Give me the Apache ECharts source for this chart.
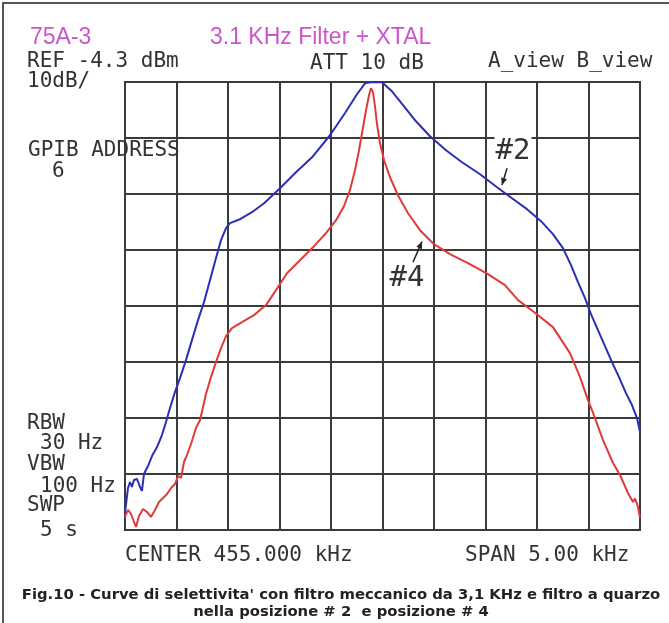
<!DOCTYPE html>
<html>
<head>
<meta charset="utf-8">
<script src="https://cdn.jsdelivr.net/npm/echarts@6/dist/echarts.min.js"></script>
<style>
html,body{margin:0;padding:0;background:#fff;}
#chart{width:669px;height:623px;}
</style>
</head>
<body>
<div id="chart"></div>
<script>
// Frequency offset from 455.000 kHz (kHz) and level relative to REF (dB)
const blueFreq = [-2.500,-2.485,-2.471,-2.451,-2.432,-2.413,-2.383,-2.354,-2.335,-2.316,-2.277,-2.238,-2.189,-2.141,-2.102,-2.063,-2.015,-1.966,-1.908,-1.850,-1.791,-1.733,-1.675,-1.617,-1.568,-1.519,-1.481,-1.383,-1.267,-1.150,-0.995,-0.840,-0.684,-0.510,-0.365,-0.248,-0.170,-0.102,-0.005,0.092,0.209,0.325,0.461,0.617,0.772,0.947,1.112,1.257,1.403,1.539,1.655,1.752,1.830,1.898,1.966,2.024,2.092,2.160,2.228,2.296,2.364,2.422,2.471,2.500];
const blueDb   = [-76.97,-74.64,-72.50,-71.43,-72.32,-71.07,-70.89,-72.32,-73.03,-70.00,-68.58,-66.79,-65.18,-63.04,-60.72,-58.23,-55.37,-52.87,-49.66,-46.09,-42.52,-39.31,-35.39,-31.46,-28.24,-26.10,-25.21,-24.50,-23.25,-21.65,-18.97,-16.11,-13.44,-9.51,-5.59,-2.19,-0.23,0,-0.05,-1.66,-4.34,-7.01,-9.69,-12.19,-14.33,-16.47,-18.79,-20.75,-22.71,-24.85,-27.17,-29.67,-32.71,-35.74,-38.60,-41.45,-44.31,-47.16,-50.02,-52.69,-55.55,-57.69,-60.01,-62.51];

const redFreq = [-2.500,-2.471,-2.442,-2.413,-2.393,-2.364,-2.325,-2.286,-2.248,-2.209,-2.170,-2.131,-2.092,-2.053,-2.015,-1.985,-1.956,-1.927,-1.898,-1.859,-1.811,-1.772,-1.714,-1.665,-1.617,-1.568,-1.519,-1.461,-1.364,-1.248,-1.131,-1.034,-0.927,-0.801,-0.665,-0.549,-0.451,-0.374,-0.316,-0.267,-0.228,-0.189,-0.160,-0.131,-0.112,-0.092,-0.073,-0.053,-0.024,0.015,0.073,0.150,0.248,0.364,0.500,0.655,0.830,1.024,1.189,1.316,1.480,1.655,1.820,1.918,1.995,2.034,2.141,2.238,2.306,2.383,2.432,2.452,2.481,2.500];
const redDb   = [-77.67,-76.42,-77.14,-78.57,-79.46,-77.50,-76.25,-76.78,-77.67,-76.42,-75.00,-74.29,-73.57,-72.50,-71.79,-70.36,-70.72,-67.86,-66.61,-64.64,-61.79,-60.40,-55.72,-52.69,-50.02,-47.52,-45.38,-43.95,-42.88,-41.63,-39.84,-37.17,-34.14,-31.82,-29.32,-27.00,-24.68,-22.18,-19.32,-15.76,-12.19,-8.08,-5.05,-2.37,-1.12,-1.84,-4.34,-7.55,-10.94,-13.97,-17.01,-20.22,-23.43,-26.46,-28.96,-30.75,-32.35,-34.32,-36.28,-38.95,-41.20,-43.77,-48.41,-52.69,-56.80,-58.58,-63.94,-68.04,-70.18,-73.39,-75.00,-74.40,-75.90,-77.85];

const xTicks = {min: -2.5, max: 2.5, step: 0.5};
const yTicks = {min: -80, max: 0, step: 10};

const headerTexts = ["REF -4.3 dBm", "10dB/", "ATT 10 dB", "A_view B_view", "GPIB ADDRESS", "6"];
const sideTexts = ["RBW", "30 Hz", "VBW", "100 Hz", "SWP", "5 s"];
const footerTexts = ["CENTER 455.000 kHz", "SPAN 5.00 kHz"];
const titleTexts = ["75A-3", "3.1 KHz Filter + XTAL"];
const captionLines = ["Fig.10 - Curve di selettivita' con filtro meccanico da 3,1 KHz e filtro a quarzo", "nella posizione # 2  e posizione # 4"];
const curveLabels = ["#2", "#4"];
// annotation anchors in data coords: [label centre], [arrow start], [arrow tip]
const label2 = [[1.267,-12.37],[1.209,-15.4],[1.160,-18.4]];
const label4 = [[0.238,-35.03],[0.296,-32.2],[0.383,-28.5]];

const chart = echarts.init(document.getElementById('chart'), null, {renderer:'canvas'});
const mono = '"DejaVu Sans Mono", "Liberation Mono", monospace';
const gridColor = '#3a3a3a';

function pairs(xs, ys){ return xs.map((x,i)=>[x, ys[i]]); }

const option = {
  backgroundColor: '#ffffff',
  animation: false,
  grid: {left:125, right:29, top:82, bottom:93, show:true, borderColor:gridColor, borderWidth:2, backgroundColor:'transparent'},
  xAxis: {type:'value', min:xTicks.min, max:xTicks.max, interval:xTicks.step,
    axisLine:{show:false}, axisTick:{show:false}, axisLabel:{show:false},
    splitLine:{show:true, lineStyle:{color:gridColor, width:2}}},
  yAxis: {type:'value', min:yTicks.min, max:yTicks.max, interval:yTicks.step,
    axisLine:{show:false}, axisTick:{show:false}, axisLabel:{show:false},
    splitLine:{show:true, lineStyle:{color:gridColor, width:2}}},
  series: [
    {type:'line', name:'#2', data:pairs(blueFreq, blueDb), symbol:'none', smooth:false,
     lineStyle:{color:'#2b2fb5', width:2}, z:3},
    {type:'line', name:'#4', data:pairs(redFreq, redDb), symbol:'none', smooth:false,
     lineStyle:{color:'#e03a3a', width:2}, z:3}
  ]
};
chart.setOption(option);

function txt(s, x, y, font, size, color, extra){
  return Object.assign({type:'text', x:x, y:y, z:10,
    style:Object.assign({text:s, fontFamily:font, fontSize:size, fill:color, textVerticalAlign:'middle', textAlign:'left'}, extra||{})});
}
const g = [];
g.push({type:'rect', shape:{x:3,y:3,width:720,height:720}, style:{fill:'none', stroke:'#555', lineWidth:2}, z:1});
const magenta = '#cc55cc';
const sans = '"Liberation Sans", Arial, sans-serif';
g.push(txt(titleTexts[0], 30, 38, sans, 23, magenta));
g.push(txt(titleTexts[1], 210, 38, sans, 23, magenta));
const hdrPos = [[27,62],[27,82],[310,64],[488,62],[28,151],[52,172]];
headerTexts.forEach((s,i)=>g.push(txt(s, hdrPos[i][0], hdrPos[i][1], mono, 21, '#333')));
const sidePos = [[27,424],[40,444],[27,465],[40,487],[27,506],[40,531]];
sideTexts.forEach((s,i)=>g.push(txt(s, sidePos[i][0], sidePos[i][1], mono, 21, '#333')));
const footPos = [[125,556],[465,556]];
footerTexts.forEach((s,i)=>g.push(txt(s, footPos[i][0], footPos[i][1], mono, 21, '#333')));
const capFont = '"DejaVu Sans", Verdana, sans-serif';
g.push(txt(captionLines[0], 341, 595, capFont, 14.8, '#222', {textAlign:'center', fontWeight:'bold'}));
g.push(txt(captionLines[1], 341, 612, capFont, 14.8, '#222', {textAlign:'center', fontWeight:'bold'}));

function annot(label, pts){
  const c = chart.convertToPixel({gridIndex:0}, pts[0]);
  const a = chart.convertToPixel({gridIndex:0}, pts[1]);
  const b = chart.convertToPixel({gridIndex:0}, pts[2]);
  g.push(txt(label, c[0], c[1], mono, 29, '#333', {textAlign:'center', backgroundColor:'#fff', padding:[0,1]}));
  g.push({type:'line', shape:{x1:a[0],y1:a[1],x2:b[0],y2:b[1]}, style:{stroke:'#222', lineWidth:1.5}, z:11});
  const dx=b[0]-a[0], dy=b[1]-a[1], L=Math.hypot(dx,dy), ux=dx/L, uy=dy/L;
  const hl=7, hw=3;
  g.push({type:'polygon', shape:{points:[[b[0],b[1]],[b[0]-ux*hl-uy*hw, b[1]-uy*hl+ux*hw],[b[0]-ux*hl+uy*hw, b[1]-uy*hl-ux*hw]]}, style:{fill:'#222'}, z:11});
}
annot(curveLabels[0], label2);
annot(curveLabels[1], label4);
chart.setOption({graphic:g});
</script>
</body>
</html>
